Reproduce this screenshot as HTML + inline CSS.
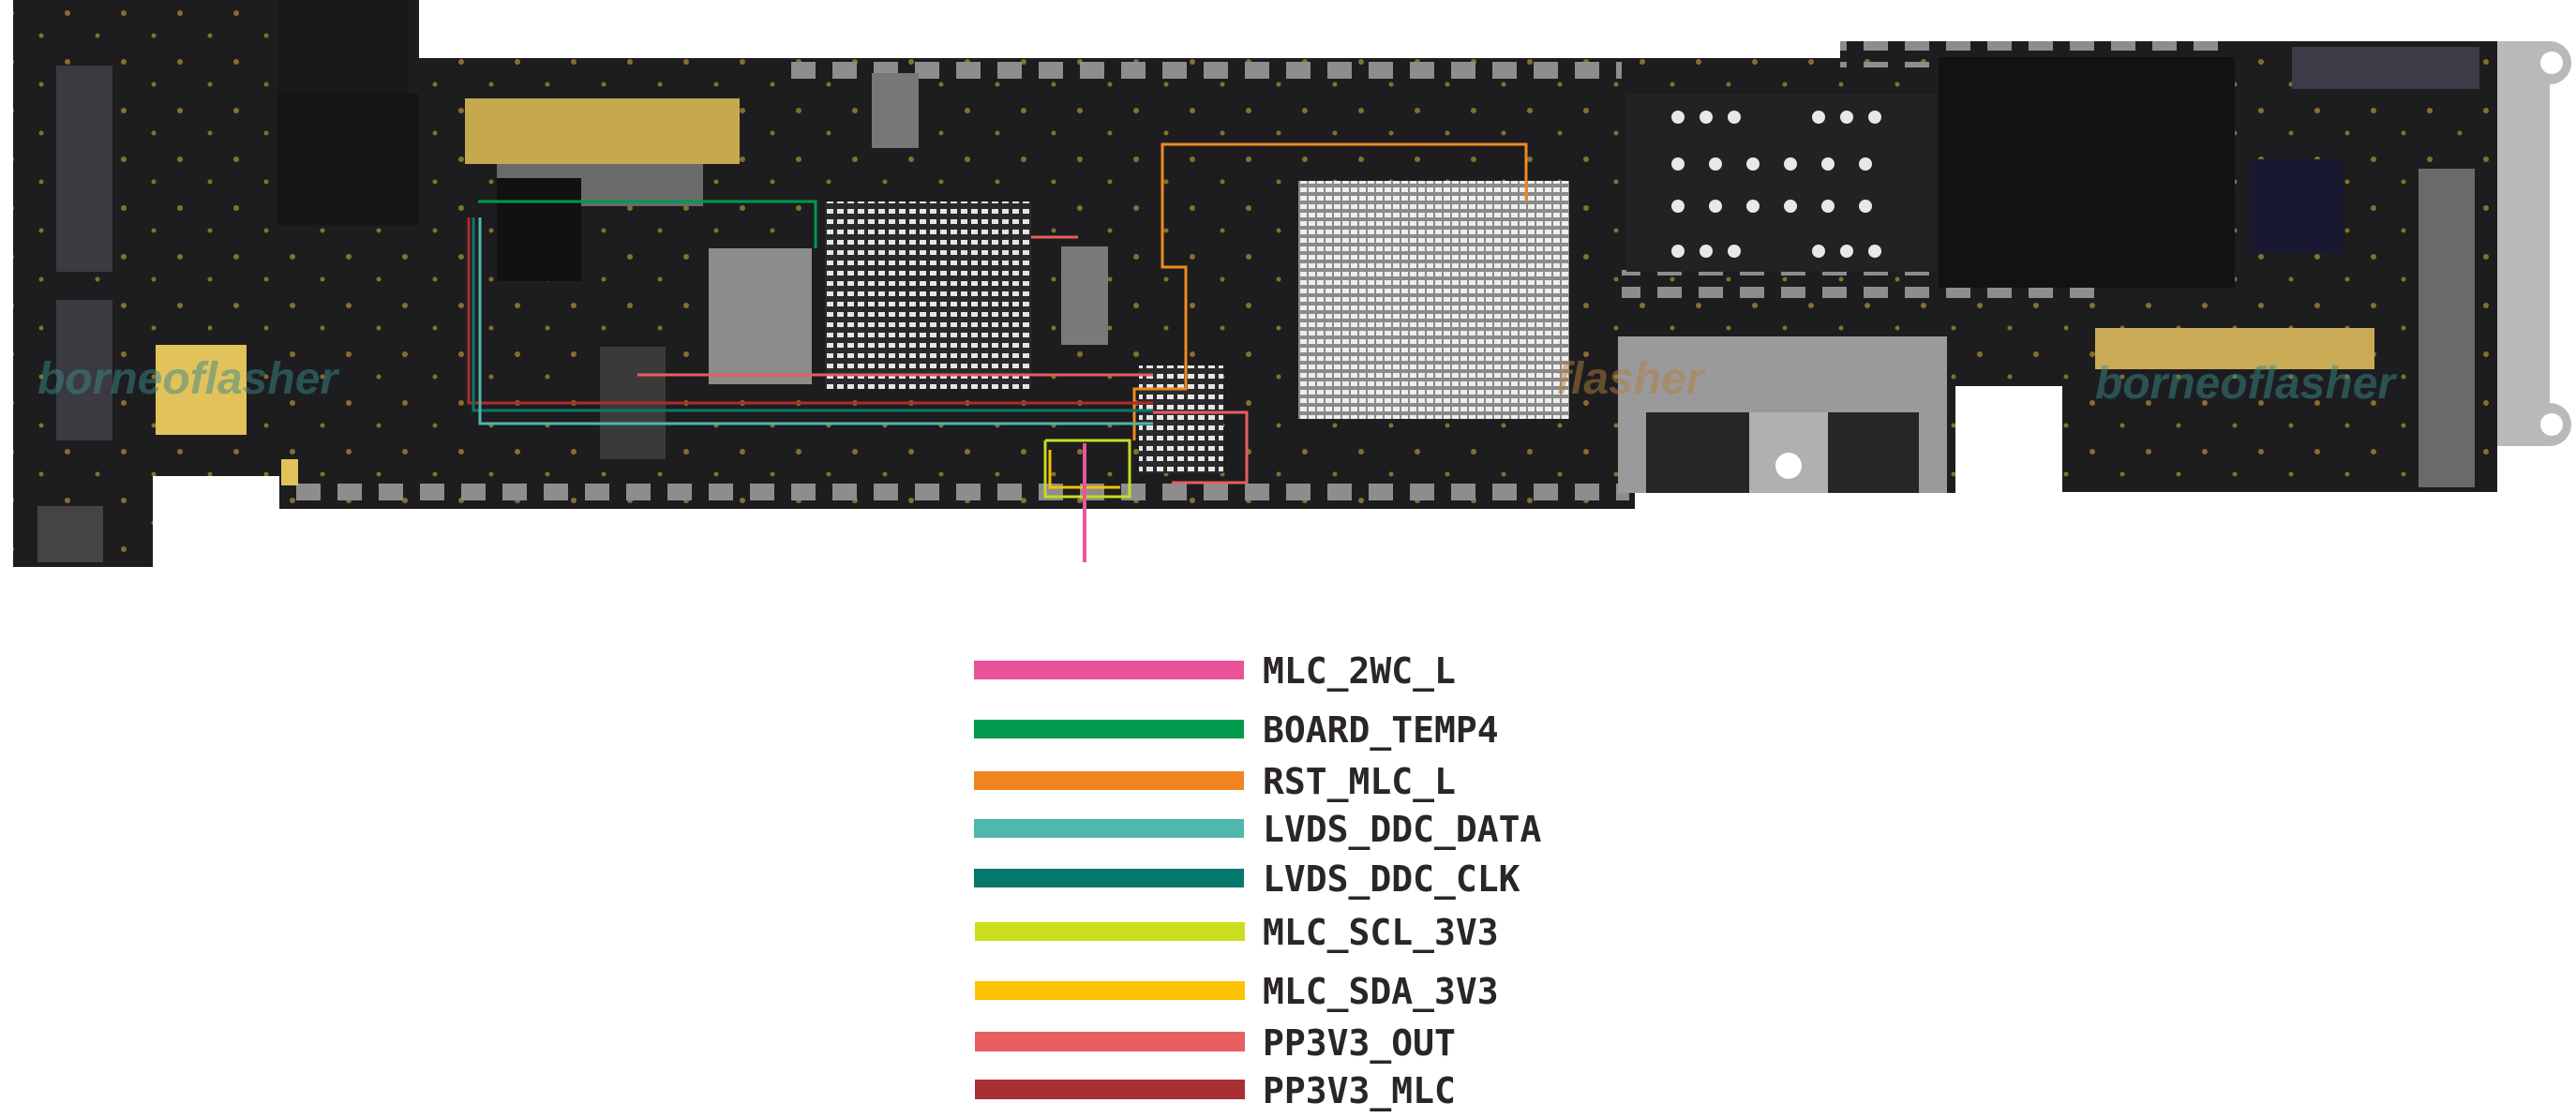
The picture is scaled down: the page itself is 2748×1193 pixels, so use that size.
<!DOCTYPE html>
<html><head><meta charset="utf-8"><style>
html,body{margin:0;padding:0;background:#fff;}
body{width:2748px;height:1193px;overflow:hidden;position:relative;}
svg{position:absolute;left:0;top:0;}
.lg{font-family:"DejaVu Sans Mono","Liberation Mono",monospace;font-weight:bold;font-size:38px;fill:#2a2526;}
</style></head><body>
<svg width="2748" height="1193" viewBox="0 0 2748 1193" xmlns="http://www.w3.org/2000/svg">
<defs>
<pattern id="bga" width="9" height="9" patternUnits="userSpaceOnUse"><rect width="9" height="9" fill="#8a8a8c"/><rect x="1" y="2" width="7" height="5" fill="#eeeeee"/></pattern>
<pattern id="bga2" width="11" height="11" patternUnits="userSpaceOnUse"><rect width="11" height="11" fill="#2a2a2c"/><rect x="2" y="3" width="7" height="5" fill="#e6e6e6"/></pattern>
<pattern id="pads" width="44" height="30" patternUnits="userSpaceOnUse"><rect x="8" y="6" width="26" height="18" fill="#8d8d8d"/></pattern>
<pattern id="vias" width="60" height="52" patternUnits="userSpaceOnUse"><circle cx="12" cy="14" r="3" fill="#c9a83a"/><circle cx="44" cy="38" r="2.5" fill="#c9a83a"/></pattern>
<clipPath id="bd"><path d="M14 0 H447 V62 H1963 V44 H2664 V525 H2200 V412 H2086 V526 H1744 V543 H298 V508 H163 V605 H14 Z"/></clipPath>
</defs>
<g clip-path="url(#bd)">
<rect x="0" y="0" width="2748" height="620" fill="#1d1d1f"/>
<rect x="0" y="0" width="2748" height="620" fill="url(#vias)" opacity="0.6"/>
<rect x="830" y="62" width="900" height="30" fill="url(#pads)"/>
<rect x="298" y="506" width="1440" height="30" fill="url(#pads)"/>
<rect x="1963" y="44" width="420" height="28" fill="url(#pads)"/>
<rect x="1730" y="288" width="520" height="30" fill="url(#pads)"/>
<rect x="60" y="70" width="60" height="220" fill="#3a3a40"/>
<rect x="60" y="320" width="60" height="150" fill="#3a3a40"/>
<rect x="166" y="368" width="97" height="96" fill="#e2c25a"/>
<rect x="300" y="490" width="18" height="28" fill="#e2c25a"/>
<rect x="40" y="540" width="70" height="60" fill="#444"/>
<rect x="296" y="100" width="150" height="140" fill="#151517"/>
<rect x="296" y="0" width="140" height="100" fill="#18181a"/>
<rect x="496" y="105" width="293" height="70" fill="#c6a94e"/>
<rect x="530" y="175" width="220" height="45" fill="#6a6a6a"/>
<rect x="930" y="78" width="50" height="80" fill="#777"/>
<rect x="880" y="215" width="220" height="200" fill="url(#bga2)"/>
<rect x="756" y="265" width="110" height="145" fill="#8c8c8c"/>
<rect x="1132" y="263" width="50" height="105" fill="#7a7a7a"/>
<rect x="1385" y="193" width="289" height="254" fill="url(#bga)"/>
<rect x="1215" y="390" width="90" height="115" fill="url(#bga2)"/>
<rect x="640" y="370" width="70" height="120" fill="#3a3a3a"/>
<rect x="530" y="190" width="90" height="110" fill="#111"/>
<rect x="1735" y="100" width="330" height="190" fill="#222"/>
<g fill="#e8e8e8">
<circle cx="1790" cy="125" r="7"/><circle cx="1820" cy="125" r="7"/><circle cx="1850" cy="125" r="7"/><circle cx="1940" cy="125" r="7"/><circle cx="1970" cy="125" r="7"/><circle cx="2000" cy="125" r="7"/>
<circle cx="1790" cy="175" r="7"/><circle cx="1830" cy="175" r="7"/><circle cx="1870" cy="175" r="7"/><circle cx="1910" cy="175" r="7"/><circle cx="1950" cy="175" r="7"/><circle cx="1990" cy="175" r="7"/>
<circle cx="1790" cy="220" r="7"/><circle cx="1830" cy="220" r="7"/><circle cx="1870" cy="220" r="7"/><circle cx="1910" cy="220" r="7"/><circle cx="1950" cy="220" r="7"/><circle cx="1990" cy="220" r="7"/>
<circle cx="1790" cy="268" r="7"/><circle cx="1820" cy="268" r="7"/><circle cx="1850" cy="268" r="7"/><circle cx="1940" cy="268" r="7"/><circle cx="1970" cy="268" r="7"/><circle cx="2000" cy="268" r="7"/>
</g>
<rect x="2068" y="61" width="316" height="246" fill="#121214"/>
<rect x="2445" y="50" width="200" height="45" fill="#3c3c48"/>
<rect x="2400" y="170" width="100" height="100" fill="#181830"/>
<rect x="2580" y="180" width="60" height="340" fill="#6a6a6a"/>
<rect x="2235" y="350" width="298" height="44" fill="#c9aa55"/>
<rect x="1726" y="359" width="351" height="167" fill="#9a9a9c"/>
<rect x="1756" y="440" width="291" height="86" fill="#262626"/>
<rect x="1866" y="440" width="84" height="90" fill="#b0b0b0"/>
<circle cx="1908" cy="497" r="14" fill="#fff"/>
<text x="40" y="420" font-family="Liberation Sans" font-weight="bold" font-style="italic" font-size="48" fill="#3a8a8a" opacity="0.5">borneoflasher</text>
<text x="1660" y="420" font-family="Liberation Sans" font-weight="bold" font-style="italic" font-size="48" fill="#b08040" opacity="0.5">flasher</text>
<text x="2235" y="425" font-family="Liberation Sans" font-weight="bold" font-style="italic" font-size="48" fill="#3a8a8a" opacity="0.5">borneoflasher</text>
</g>
<!-- bracket -->
<path d="M2664 44 H2720 a23 23 0 1 1 0 46 V430 a23 23 0 1 1 0 46 H2664 Z" fill="#b9b9bb"/>
<circle cx="2722" cy="67" r="12" fill="#fff"/><circle cx="2722" cy="453" r="12" fill="#fff"/>
<!-- traces -->
<g fill="none" stroke-width="3">
<polyline points="1240,170 1240,154 1560,154 1628,154 1628,215" stroke="#f08a20"/>
<polyline points="1240,154 1240,285 1265,285 1265,415 1210,415 1210,470" stroke="#f08a20"/>
<polyline points="510,215 870,215 870,265" stroke="#00994c"/>
<polyline points="500,232 500,430 1230,430" stroke="#b02a2a"/>
<polyline points="505,232 505,438 1230,438" stroke="#0a786a"/>
<polyline points="512,232 512,452 1230,452" stroke="#50b7ad"/>
<polyline points="680,400 1230,400" stroke="#e85d5d"/>
<polyline points="1100,253 1150,253" stroke="#e85d5d"/>
<polyline points="1230,440 1330,440 1330,515 1250,515" stroke="#e85d5d"/>
<polyline points="1115,470 1115,530 1205,530 1205,470 1115,470" stroke="#c8dc20"/>
<polyline points="1120,480 1120,520 1195,520" stroke="#f8c000"/>
<line x1="1157" y1="473" x2="1157" y2="600" stroke="#e8559a" stroke-width="4"/>
</g>
<!-- legend -->
<rect x="1039" y="705" width="288" height="20" fill="#e85497"/>
<rect x="1039" y="768" width="288" height="20" fill="#009a4c"/>
<rect x="1039" y="823" width="288" height="20" fill="#ef8520"/>
<rect x="1039" y="874" width="288" height="20" fill="#50b7ad"/>
<rect x="1039" y="927" width="288" height="20" fill="#06796c"/>
<rect x="1040" y="984" width="288" height="20" fill="#cbdd1f"/>
<rect x="1040" y="1047" width="288" height="20" fill="#fdc300"/>
<rect x="1040" y="1101" width="288" height="21" fill="#e75f60"/>
<rect x="1040" y="1152" width="288" height="21" fill="#a83033"/>
<g class="lg">
<text x="1347" y="729">MLC_2WC_L</text>
<text x="1347" y="792">BOARD_TEMP4</text>
<text x="1347" y="847">RST_MLC_L</text>
<text x="1347" y="898">LVDS_DDC_DATA</text>
<text x="1347" y="951">LVDS_DDC_CLK</text>
<text x="1347" y="1008">MLC_SCL_3V3</text>
<text x="1347" y="1071">MLC_SDA_3V3</text>
<text x="1347" y="1126">PP3V3_OUT</text>
<text x="1347" y="1177">PP3V3_MLC</text>
</g>
</svg>
</body></html>
